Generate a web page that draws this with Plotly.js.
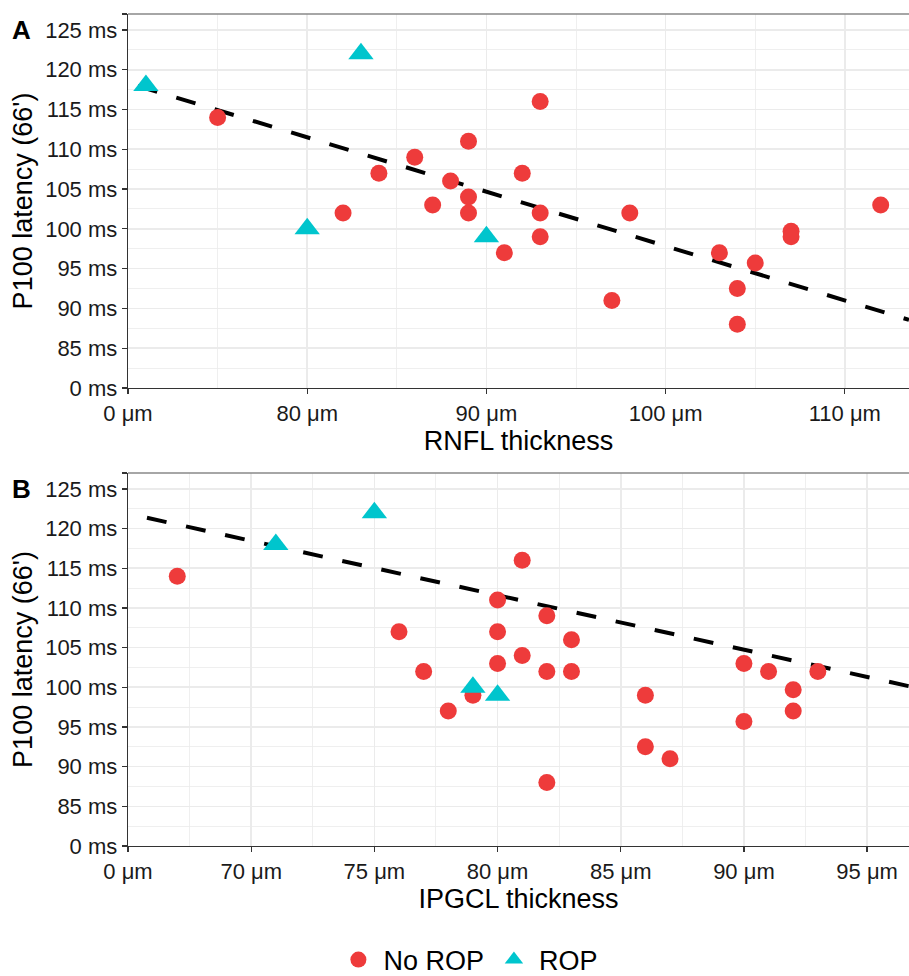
<!DOCTYPE html>
<html>
<head>
<meta charset="utf-8">
<script src="https://cdn.plot.ly/plotly-3.0.1.min.js"></script>
<style>html,body{margin:0;padding:0;background:#fff;}#chart{width:909px;height:976px;}</style>
</head>
<body>
<div id="chart"></div>
<script>
// ---- Data ----
// Panel A: RNFL thickness (µm) vs P100 latency (ms)
var A_noROP_x = [75, 82, 84, 86, 87, 88, 89, 89, 89, 91, 92, 93, 93, 93, 97, 98, 103, 104, 104, 105, 107, 107, 112];
var A_noROP_y = [114, 102, 107, 109, 103, 106, 111, 104, 102, 97, 107, 116, 102, 99, 91, 102, 97, 92.5, 88, 95.7, 99.7, 99, 103];
var A_ROP_x = [71, 83, 80, 90];
var A_ROP_y = [118, 122, 100, 99];
var A_fit_x = [70.56, 113.58];
var A_fit_y = [117.95, 88.56];

// Panel B: IPGCL thickness (µm) vs P100 latency (ms)
var B_noROP_x = [67, 76, 77, 78, 79, 80, 80, 80, 81, 81, 82, 82, 82, 83, 83, 86, 86, 87, 90, 90, 91, 92, 92, 93];
var B_noROP_y = [114, 107, 102, 97, 99, 111, 107, 103, 116, 104, 109, 102, 88, 106, 102, 99, 92.5, 91, 103, 95.7, 102, 99.7, 97, 102];
var B_ROP_x = [71, 75, 79, 80];
var B_ROP_y = [118, 122, 100, 99];
var B_fit_x = [65.77, 96.7];
var B_fit_y = [121.36, 100.14];

// Axis ticks (broken axes: the lowest tick is labelled 0)
var yTickVals = [80, 85, 90, 95, 100, 105, 110, 115, 120, 125, 127];
var yTickText = ["0 ms", "85 ms", "90 ms", "95 ms", "100 ms", "105 ms", "110 ms", "115 ms", "120 ms", "125 ms", ""];
var xA_TickVals = [70, 80, 90, 100, 110];
var xA_TickText = ["0 μm", "80 μm", "90 μm", "100 μm", "110 μm"];
var xB_TickVals = [65, 70, 75, 80, 85, 90, 95];
var xB_TickText = ["0 μm", "70 μm", "75 μm", "80 μm", "85 μm", "90 μm", "95 μm"];
var groups = ["No ROP", "ROP"];

var RED = "#EE3B3B", TEAL = "#00C5CD";
var FONT = "Liberation Sans, Arial, Helvetica, sans-serif";

function pts(x, y, xa, ya, name, sym, col, size, show) {
  return {type: "scatter", mode: "markers", x: x, y: y, xaxis: xa, yaxis: ya,
    name: name, legendgroup: name, showlegend: show,
    marker: {symbol: sym, color: col, size: size, line: {width: 0}}, hoverinfo: "x+y"};
}
function fit(x, y, xa, ya) {
  return {type: "scatter", mode: "lines", x: x, y: y, xaxis: xa, yaxis: ya, showlegend: false,
    line: {color: "#000", width: 4, dash: "20px,20px"}, hoverinfo: "skip"};
}

var traces = [
  fit(A_fit_x, A_fit_y, "x", "y"),
  fit(B_fit_x, B_fit_y, "x2", "y2"),
  pts(A_noROP_x, A_noROP_y, "x", "y", groups[0], "circle", RED, 17, true),
  pts(A_ROP_x, A_ROP_y, "x", "y", groups[1], "triangle-up", TEAL, 22, true),
  pts(B_noROP_x, B_noROP_y, "x2", "y2", groups[0], "circle", RED, 17, false),
  pts(B_ROP_x, B_ROP_y, "x2", "y2", groups[1], "triangle-up", TEAL, 22, false)
];

var tickFont = {family: FONT, size: 22, color: "#1a1a1a"};
var titleFont = {family: FONT, size: 27, color: "#000"};
var GRID = "#EBEBEB";

function xax(range, tv, tt, domainAnchor, title, minor0, minorD) {
  return {range: range, tickmode: "array", tickvals: tv, ticktext: tt, anchor: domainAnchor,
    showline: true, linecolor: "#333", linewidth: 1.3, ticks: "outside", ticklen: 5, tickwidth: 1.3, tickcolor: "#333",
    showgrid: true, gridcolor: GRID, gridwidth: 1.6, zeroline: false, tickfont: tickFont,
    minor: {tickmode: "linear", tick0: minor0, dtick: minorD, showgrid: true, gridcolor: GRID, gridwidth: 0.8, ticklen: 0},
    title: {text: title, font: titleFont, standoff: 1}, automargin: false, fixedrange: true};
}
function yax(domain, anchor) {
  return {range: [80, 127], domain: domain, anchor: anchor, tickmode: "array", tickvals: yTickVals, ticktext: yTickText,
    showline: true, linecolor: "#333", linewidth: 1.3, ticks: "outside", ticklen: 5, tickwidth: 1.3, tickcolor: "#333",
    showgrid: true, gridcolor: GRID, gridwidth: 1.6, zeroline: false, tickfont: tickFont,
    minor: {tickmode: "linear", tick0: 80, dtick: 2.5, showgrid: true, gridcolor: GRID, gridwidth: 0.8, ticklen: 0},
    title: {text: "P100 latency (66')", font: titleFont, standoff: 4}, automargin: false, fixedrange: true};
}

var layout = {
  width: 909, height: 976,
  margin: {l: 128, r: 0, t: 14, b: 130, autoexpand: false},
  paper_bgcolor: "#fff", plot_bgcolor: "#fff",
  font: {family: FONT},
  xaxis: xax([70, 113.58], xA_TickVals, xA_TickText, "y", "RNFL thickness", 70, 5),
  yaxis: yax([0.5505, 1], "x"),
  xaxis2: xax([65, 96.7], xB_TickVals, xB_TickText, "y2", "IPGCL thickness", 65, 2.5),
  yaxis2: yax([0, 0.4483], "x2"),
  showlegend: true,
  legend: {orientation: "h", x: 0.263, xanchor: "left", y: -0.137, yanchor: "middle", itemwidth: 40,
    font: {family: FONT, size: 27, color: "#000"}, bgcolor: "rgba(0,0,0,0)", borderwidth: 0, traceorder: "normal"},
  shapes: [
    {type: "line", xref: "x domain", yref: "y domain", x0: 0, x1: 1, y0: 1, y1: 1, line: {color: "#888", width: 1.3}},
    {type: "line", xref: "x2 domain", yref: "y2 domain", x0: 0, x1: 1, y0: 1, y1: 1, line: {color: "#888", width: 1.3}}
  ],
  annotations: [
    {text: "<b>A</b>", xref: "paper", yref: "paper", x: -0.137, y: 0.981, xanchor: "center", yanchor: "middle", showarrow: false, font: {family: FONT, size: 26, color: "#000"}},
    {text: "<b>B</b>", xref: "paper", yref: "paper", x: -0.137, y: 0.429, xanchor: "center", yanchor: "middle", showarrow: false, font: {family: FONT, size: 26, color: "#000"}}
  ]
};

Plotly.newPlot("chart", traces, layout, {displayModeBar: false, staticPlot: true});
</script>
</body>
</html>
